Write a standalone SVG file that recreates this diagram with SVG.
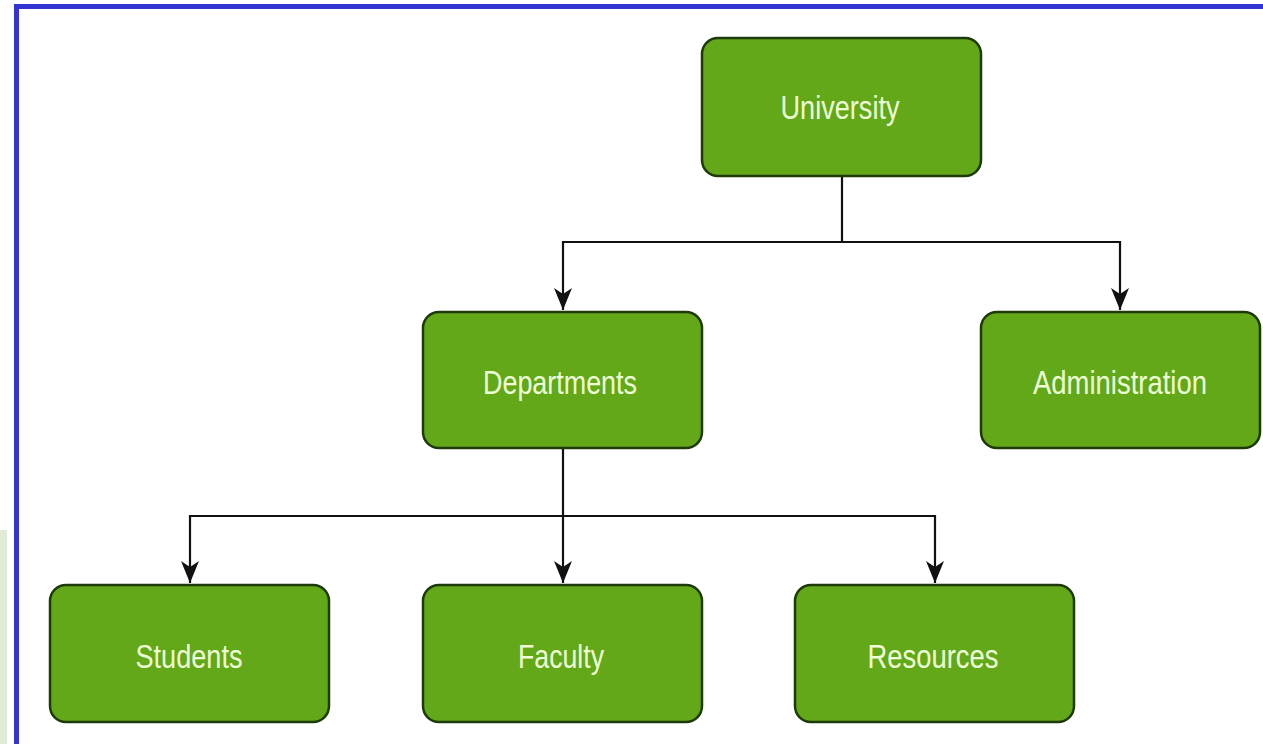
<svg xmlns="http://www.w3.org/2000/svg" width="1263" height="744" viewBox="0 0 1263 744">
  <style>
    .box { fill: #62a818; stroke: #1e3a08; stroke-width: 2.5; }
    .lbl { font-family: "Liberation Sans", Arial, sans-serif; font-size: 33px; fill: #eeffd8; text-anchor: middle; }
    .edge { fill: none; stroke: #111; stroke-width: 2.2; }
  </style>
  <defs>
    <marker id="arr" viewBox="0 0 22 18" refX="22" refY="9" markerWidth="22" markerHeight="18" markerUnits="userSpaceOnUse" orient="auto">
      <path d="M0,0 L22,9 L0,18 L6,9 Z" fill="#111"/>
    </marker>
  </defs>
  <rect x="0" y="0" width="1263" height="744" fill="#ffffff"/>
  <rect x="0" y="530" width="7" height="214" fill="#e1ecd6"/>
  <rect x="14" y="4" width="1249" height="5" fill="#3434d2"/>
  <rect x="14" y="4" width="5" height="740" fill="#3434d2"/>

  <g id="connectors">
    <path class="edge" d="M842,176 V242 H563 V310" marker-end="url(#arr)"/>
    <path class="edge" d="M842,242 H1120 V310" marker-end="url(#arr)"/>
    <path class="edge" d="M563,448 V583" marker-end="url(#arr)"/>
    <path class="edge" d="M563,516 H190 V583" marker-end="url(#arr)"/>
    <path class="edge" d="M563,516 H935 V583" marker-end="url(#arr)"/>
  </g>

  <g id="university">
    <rect class="box" x="702" y="38" width="279" height="138" rx="16"/>
    <text class="lbl" x="840" y="119" textLength="119" lengthAdjust="spacingAndGlyphs">University</text>
  </g>
  <g id="departments">
    <rect class="box" x="423" y="312" width="279" height="136" rx="16"/>
    <text class="lbl" x="560" y="394" textLength="154" lengthAdjust="spacingAndGlyphs">Departments</text>
  </g>
  <g id="administration">
    <rect class="box" x="981" y="312" width="279" height="136" rx="16"/>
    <text class="lbl" x="1120" y="394" textLength="174" lengthAdjust="spacingAndGlyphs">Administration</text>
  </g>
  <g id="students">
    <rect class="box" x="50" y="585" width="279" height="137" rx="16"/>
    <text class="lbl" x="189" y="668" textLength="107" lengthAdjust="spacingAndGlyphs">Students</text>
  </g>
  <g id="faculty">
    <rect class="box" x="423" y="585" width="279" height="137" rx="16"/>
    <text class="lbl" x="561" y="668" textLength="86" lengthAdjust="spacingAndGlyphs">Faculty</text>
  </g>
  <g id="resources">
    <rect class="box" x="795" y="585" width="279" height="137" rx="16"/>
    <text class="lbl" x="933" y="668" textLength="131" lengthAdjust="spacingAndGlyphs">Resources</text>
  </g>
</svg>
